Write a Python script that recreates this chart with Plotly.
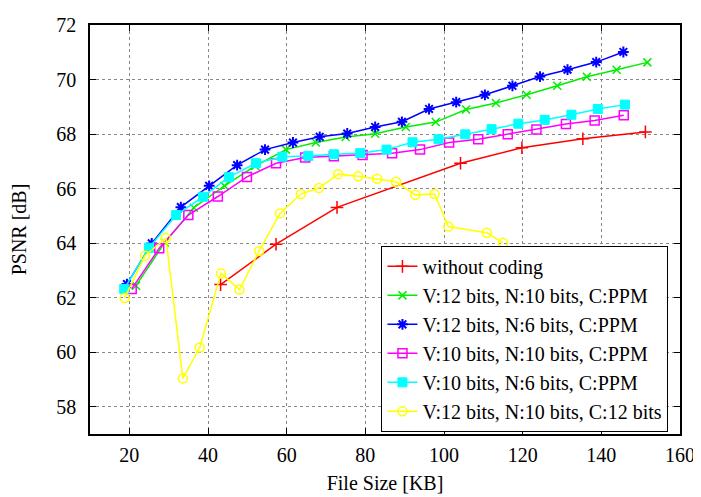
import plotly.graph_objects as go

# without coding
red_x = [43.2, 57.3, 72.8, 104.2, 119.8, 135.3, 151.2]
red_y = [62.48, 63.96, 65.31, 66.93, 67.50, 67.83, 68.08]

# V:12 bits, N:10 bits, C:PPM
green_x = [21.7, 29.0, 36.4, 44.2, 52.0, 59.8, 67.4, 75.0, 82.5, 90.3, 97.9, 105.6,
           113.2, 121.0, 128.8, 136.3, 143.9, 151.7]
green_y = [62.44, 64.02, 65.30, 66.10, 66.83, 67.43, 67.69, 67.89, 68.01, 68.26, 68.44, 68.90,
           69.14, 69.44, 69.77, 70.10, 70.36, 70.63]

# V:12 bits, N:6 bits, C:PPM
blue_x = [19.4, 25.7, 33.1, 40.3, 47.4, 54.5, 61.6, 68.4, 75.4, 82.5, 89.3, 96.2,
          103.1, 110.4, 117.4, 124.4, 131.4, 138.7, 145.6]
blue_y = [62.50, 63.99, 65.32, 66.10, 66.86, 67.43, 67.69, 67.90, 68.02, 68.26, 68.45, 68.92,
          69.17, 69.44, 69.77, 70.11, 70.36, 70.64, 71.01]

# V:10 bits, N:10 bits, C:PPM
mag_x = [20.6, 27.6, 35.0, 42.5, 49.9, 57.3, 64.7, 72.0, 79.3, 86.8, 93.9, 101.3,
         108.7, 116.2, 123.5, 131.0, 138.3, 145.7]
mag_y = [62.32, 63.81, 65.03, 65.71, 66.43, 66.93, 67.14, 67.19, 67.23, 67.30, 67.43, 67.69,
         67.81, 67.99, 68.17, 68.37, 68.50, 68.69]

# V:10 bits, N:6 bits, C:PPM
cyan_x = [18.7, 25.0, 31.9, 38.7, 45.3, 52.2, 58.9, 65.5, 72.0, 78.7, 85.4, 92.0,
          98.6, 105.4, 112.1, 118.9, 125.6, 132.4, 139.1, 146.0]
cyan_y = [62.32, 63.83, 65.03, 65.70, 66.42, 66.93, 67.17, 67.20, 67.26, 67.30, 67.43, 67.70,
          67.81, 67.99, 68.18, 68.38, 68.52, 68.71, 68.92, 69.08]

# V:12 bits, N:10 bits, C:12 bits
yel_x = [18.8, 24.0, 29.3, 33.6, 37.9, 43.3, 48.0, 53.0, 58.3, 63.6, 68.2, 73.1,
         78.2, 83.0, 87.8, 92.7, 97.6, 101.1, 110.9, 115.0]
yel_y = [61.99, 63.54, 64.19, 59.04, 60.17, 62.89, 62.30, 63.71, 65.09, 65.80, 66.02, 66.53,
         66.45, 66.36, 66.25, 65.77, 65.80, 64.61, 64.38, 64.01]

names = ["without coding",
         "V:12 bits, N:10 bits, C:PPM",
         "V:12 bits, N:6 bits, C:PPM",
         "V:10 bits, N:10 bits, C:PPM",
         "V:10 bits, N:6 bits, C:PPM",
         "V:12 bits, N:10 bits, C:12 bits"]

series = [
    (red_x, red_y, "#ff0000", "cross-thin-open", 9, 1.5),
    (green_x, green_y, "#00ee00", "x-thin-open", 8, 1.5),
    (blue_x, blue_y, "#0000ff", "asterisk-open", 9, 2),
    (mag_x, mag_y, "#ff00ff", "square-open", 9, 1.5),
    (cyan_x, cyan_y, "#00ffff", "square", 9, 1),
    (yel_x, yel_y, "#ffff00", "circle-open", 9, 1.5),
]

fig = go.Figure()
for name, (xs, ys, col, sym, sz, mw) in zip(names, series):
    fig.add_trace(go.Scatter(
        x=xs, y=ys, name=name, mode="lines+markers",
        line=dict(color=col, width=1.5),
        marker=dict(symbol=sym, size=sz, color=col, line=dict(color=col, width=mw)),
    ))

font = "Liberation Serif"
axis_common = dict(
    showline=True, linecolor="black", linewidth=1.5, mirror="ticks",
    ticks="inside", ticklen=6, tickcolor="black",
    showgrid=True, gridcolor="#888888", griddash="dot", gridwidth=1,
    zeroline=False, ticklabeloverflow="allow",
    tickfont=dict(family=font, size=20, color="black"),
)

# the page adds an 8px body margin, so the figure is sized to fit the window
fig.update_layout(
    width=693, height=489,
    margin=dict(l=82, r=18, t=6, b=63),
    paper_bgcolor="white", plot_bgcolor="white",
    font=dict(family=font, size=20, color="black"),
    xaxis=dict(range=[10, 160], dtick=20, tick0=0, ticklabelstandoff=2,
               title=dict(text="File Size [KB]", font=dict(family=font, size=20), standoff=11),
               **axis_common),
    yaxis=dict(range=[57, 72], dtick=2, tick0=0, ticklabelstandoff=8,
               title=dict(text="PSNR [dB]", font=dict(family=font, size=20), standoff=24),
               **axis_common),
    legend=dict(x=0.494, y=0.46, xanchor="left", yanchor="top",
                bgcolor="white", bordercolor="black", borderwidth=1,
                font=dict(family=font, size=20, color="black"),
                itemwidth=30),
    showlegend=True,
)

fig.write_html("out.html")
